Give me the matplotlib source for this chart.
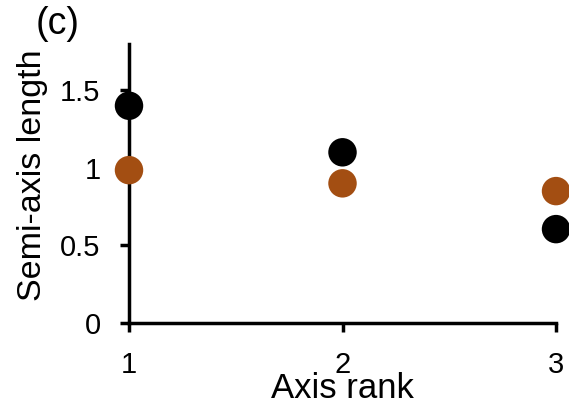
import numpy as np
import matplotlib.pyplot as plt

plt.rcParams['font.family'] = ['Liberation Sans', 'DejaVu Sans']

# semi-axis lengths per axis rank
rank = [1, 2, 3]
len_black = [1.40, 1.10, 0.605]
len_brown = [0.985, 0.90, 0.85]

yticks = [0, 0.5, 1, 1.5]
ytick_labels = ['0', '0.5', '1', '1.5']

fig = plt.figure(figsize=(5.69, 4.12), dpi=100)
ax = fig.add_axes([0.2267, 0.216, 0.7505, 0.678])

ax.scatter(rank, len_brown, s=420, color='#A34E12', edgecolors='none', clip_on=False, zorder=3)
ax.scatter(rank, len_black, s=420, color='black', edgecolors='none', clip_on=False, zorder=3)

ax.set_xlim(1, 3)
ax.set_ylim(0, 1.8)
ax.set_xticks(rank)
ax.set_yticks(yticks)
ax.set_yticklabels(ytick_labels)

for s in ['top', 'right']:
    ax.spines[s].set_visible(False)
for s in ['left', 'bottom']:
    ax.spines[s].set_linewidth(2.5)
ax.tick_params(axis='both', direction='out', length=6.5, width=2.5, labelsize=21, pad=14)

ax.set_xlabel('Axis rank', fontsize=25)
ax.xaxis.set_label_coords(0.5, -0.176)
ax.set_ylabel('Semi-axis length', fontsize=24.5, va='center')
ax.yaxis.set_label_coords(-0.225, 0.529)
fig.text(36 / 569, 1 - 6 / 412, '(c)', fontsize=27, ha='left', va='top')

fig.savefig('out.png', dpi=100)
